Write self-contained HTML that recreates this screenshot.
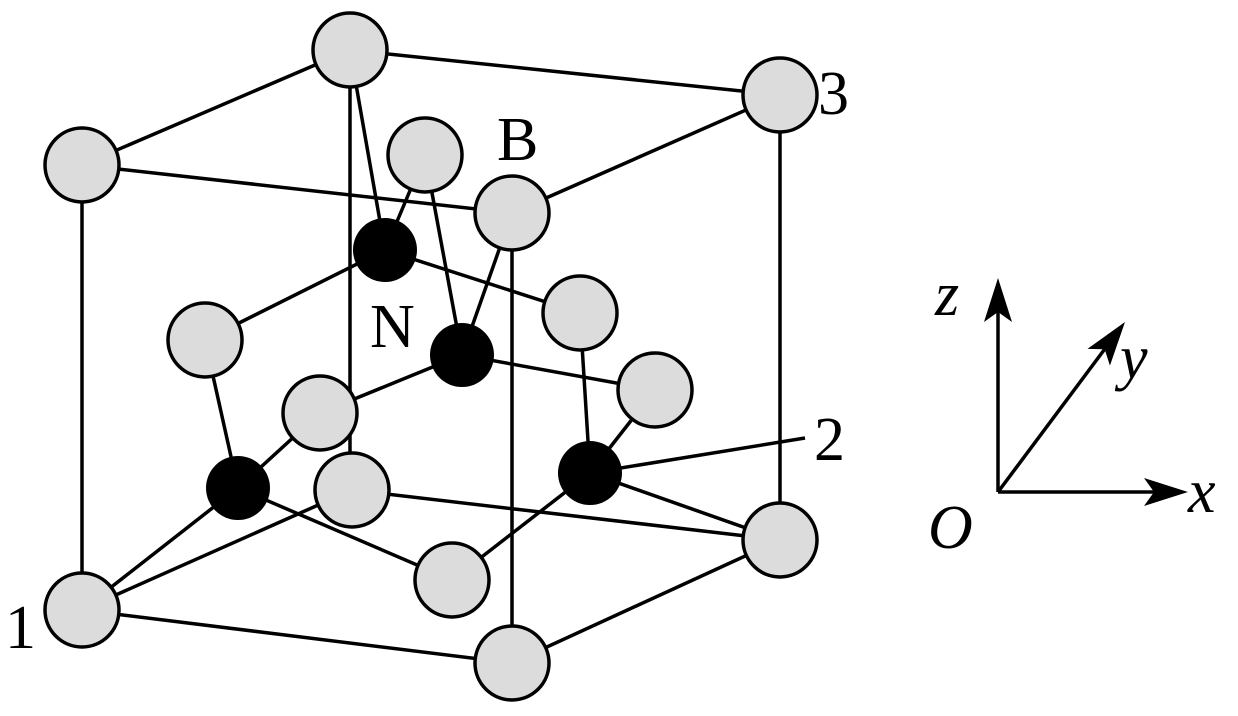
<!DOCTYPE html>
<html><head><style>html,body{margin:0;padding:0;background:#fff}</style></head><body>
<svg width="1238" height="711" viewBox="0 0 1238 711" xmlns="http://www.w3.org/2000/svg">
<g stroke="#000" stroke-width="3.5" fill="none">
<line x1="350" y1="50" x2="780" y2="95"/>
<line x1="350" y1="50" x2="82" y2="165"/>
<line x1="82" y1="165" x2="512" y2="213"/>
<line x1="512" y1="213" x2="780" y2="95"/>
<line x1="82" y1="165" x2="82" y2="610"/>
<line x1="780" y1="95" x2="780" y2="540"/>
<line x1="512" y1="213" x2="512" y2="663"/>
<line x1="350" y1="50" x2="350" y2="490"/>
<line x1="82" y1="610" x2="512" y2="663"/>
<line x1="512" y1="663" x2="780" y2="540"/>
<line x1="352" y1="490" x2="780" y2="540"/>
<line x1="82" y1="610" x2="352" y2="490"/>
<line x1="385" y1="250" x2="350" y2="50"/>
<line x1="385" y1="250" x2="425" y2="155"/>
<line x1="385" y1="250" x2="205" y2="340"/>
<line x1="385" y1="250" x2="580" y2="313"/>
<line x1="462" y1="355" x2="425" y2="155"/>
<line x1="462" y1="355" x2="512" y2="213"/>
<line x1="462" y1="355" x2="320" y2="413"/>
<line x1="462" y1="355" x2="655" y2="390"/>
<line x1="238" y1="488" x2="205" y2="340"/>
<line x1="238" y1="488" x2="320" y2="413"/>
<line x1="238" y1="488" x2="82" y2="610"/>
<line x1="238" y1="488" x2="452" y2="580"/>
<line x1="590" y1="473" x2="580" y2="313"/>
<line x1="590" y1="473" x2="655" y2="390"/>
<line x1="590" y1="473" x2="780" y2="540"/>
<line x1="590" y1="473" x2="452" y2="580"/>
<line x1="590" y1="473" x2="805" y2="438"/>
</g>
<g fill="#dcdcdc" stroke="#000" stroke-width="3.5">
<circle cx="350" cy="50" r="37"/><circle cx="780" cy="95" r="37"/><circle cx="82" cy="165" r="37"/>
<circle cx="425" cy="155" r="37"/><circle cx="512" cy="213" r="37"/>
<circle cx="205" cy="340" r="37"/><circle cx="580" cy="313" r="37"/><circle cx="655" cy="390" r="37"/>
<circle cx="320" cy="413" r="37"/><circle cx="352" cy="490" r="37"/><circle cx="780" cy="540" r="37"/>
<circle cx="82" cy="610" r="37"/><circle cx="452" cy="580" r="37"/><circle cx="512" cy="663" r="37"/>
</g>
<g fill="#000">
<circle cx="385" cy="250" r="32"/><circle cx="462" cy="355" r="32"/><circle cx="238" cy="488" r="32"/><circle cx="590" cy="473" r="32"/>
</g>
<g stroke="#000" stroke-width="3.5">
<line x1="998" y1="492" x2="998" y2="300"/>
<line x1="998" y1="492" x2="1165" y2="492"/>
<line x1="998" y1="492" x2="1110" y2="342"/>
</g>
<g fill="#000">
<path d="M998,278 L1012,322 L998,312 L984,322 z"/>
<path d="M1188,492 L1144,506 L1154,492 L1144,478 z"/>
<g transform="translate(1125,322) rotate(-53.3)"><path d="M0,0 L-44,14 L-34,0 L-44,-14 z" transform="rotate(0)"/></g>
</g>
<g font-family="Liberation Serif, serif" font-size="62" fill="#000">
<text x="818" y="114">3</text><text x="497" y="160">B</text><text x="370" y="347">N</text>
<text x="814" y="460">2</text><text x="5" y="648">1</text>
<g font-style="italic"><text x="935" y="315">z</text><text x="1120" y="378">y</text><text x="1188" y="512">x</text><text x="928" y="548">O</text></g>
</g>
</svg>
</body></html>
